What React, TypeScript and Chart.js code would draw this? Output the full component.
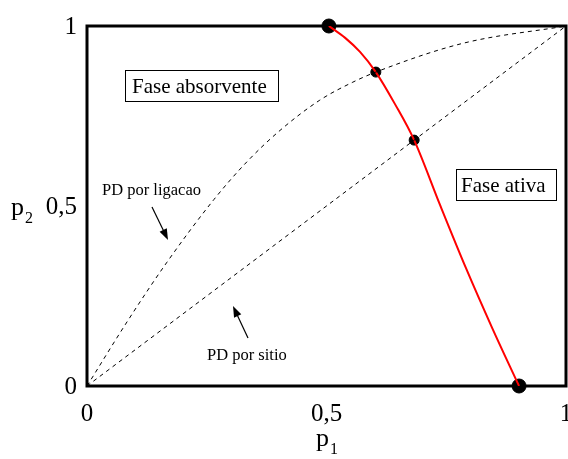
import React, { useEffect, useRef } from "react";
import { Chart, registerables } from "chart.js";

Chart.register(...registerables);

// Bond directed percolation curve (p1, p2)
const bondP1 = [0, 0.0835, 0.167, 0.265, 0.334, 0.403, 0.486, 0.555, 0.603, 0.785, 1];
const bondP2 = [0, 0.178, 0.344, 0.518, 0.623, 0.71, 0.794, 0.844, 0.872, 0.952, 1];
// Site directed percolation line
const siteP1 = [0, 1];
const siteP2 = [0, 1];
// Critical line (red)
const critP1 = [0.505, 0.539, 0.57, 0.603, 0.643, 0.683, 0.737, 0.791, 0.846, 0.902];
const critP2 = [1, 0.967, 0.928, 0.872, 0.783, 0.683, 0.503, 0.328, 0.161, 0];
// Marked points
const endP1 = [0.505, 0.902];
const endP2 = [1, 0];
const crossP1 = [0.603, 0.683];
const crossP2 = [0.872, 0.683];
// Ticks
const tickValues = [0, 0.5, 1];
const tickLabels = ["0", "0,5", "1"];

const zip = (a: number[], b: number[]) => a.map((x, i) => ({ x, y: b[i] }));

const SERIF = '"Liberation Serif", serif';

function arrow(ctx: CanvasRenderingContext2D, x1: number, y1: number, x2: number, y2: number) {
  const ang = Math.atan2(y2 - y1, x2 - x1);
  const L = 11;
  const W = 4;
  ctx.beginPath();
  ctx.moveTo(x1, y1);
  ctx.lineTo(x2 - Math.cos(ang) * L * 0.8, y2 - Math.sin(ang) * L * 0.8);
  ctx.strokeStyle = "#000";
  ctx.lineWidth = 1.2;
  ctx.stroke();
  ctx.beginPath();
  ctx.moveTo(x2, y2);
  ctx.lineTo(x2 - Math.cos(ang) * L + Math.sin(ang) * W, y2 - Math.sin(ang) * L - Math.cos(ang) * W);
  ctx.lineTo(x2 - Math.cos(ang) * L - Math.sin(ang) * W, y2 - Math.sin(ang) * L + Math.cos(ang) * W);
  ctx.closePath();
  ctx.fillStyle = "#000";
  ctx.fill();
}

const framePlugin = {
  id: "frame",
  beforeDatasetsDraw(chart: any) {
    const { ctx, chartArea: a } = chart;
    ctx.save();
    ctx.strokeStyle = "#000";
    ctx.lineWidth = 3;
    ctx.strokeRect(a.left, a.top, a.right - a.left, a.bottom - a.top);
    ctx.restore();
  },
  afterDraw(chart: any) {
    const { ctx } = chart;
    const xs = chart.scales.x;
    const ys = chart.scales.y;
    ctx.save();
    ctx.fillStyle = "#000";
    // tick labels
    ctx.font = `25px ${SERIF}`;
    ctx.textAlign = "right";
    ctx.textBaseline = "middle";
    tickValues.forEach((v, i) => {
      ctx.fillText(tickLabels[i], 77, ys.getPixelForValue(v) + 1);
    });
    ctx.textAlign = "center";
    ctx.textBaseline = "alphabetic";
    tickValues.forEach((v, i) => {
      ctx.fillText(tickLabels[i], xs.getPixelForValue(v), 421);
    });
    // axis titles
    ctx.textAlign = "left";
    ctx.font = `26px ${SERIF}`;
    ctx.fillText("p", 11, 215);
    ctx.font = `16px ${SERIF}`;
    ctx.fillText("2", 25, 223);
    ctx.font = `26px ${SERIF}`;
    ctx.fillText("p", 316, 446);
    ctx.font = `16px ${SERIF}`;
    ctx.fillText("1", 330, 454);
    // phase boxes
    ctx.font = `21px ${SERIF}`;
    ctx.lineWidth = 1;
    ctx.strokeStyle = "#000";
    ctx.fillStyle = "#fff";
    ctx.fillRect(125.5, 70.5, 153, 31);
    ctx.strokeRect(125.5, 70.5, 153, 31);
    ctx.fillRect(456.5, 169.5, 100, 31);
    ctx.strokeRect(456.5, 169.5, 100, 31);
    ctx.fillStyle = "#000";
    ctx.fillText("Fase absorvente", 132, 93);
    ctx.fillText("Fase ativa", 461, 192);
    // annotations
    ctx.font = `16.5px ${SERIF}`;
    ctx.fillText("PD por ligacao", 102, 195);
    ctx.fillText("PD por sitio", 207, 360);
    arrow(ctx, 152, 207, 168, 240);
    arrow(ctx, 248, 338, 233, 306);
    ctx.restore();
  },
};

export default function App() {
  const ref = useRef<HTMLCanvasElement>(null);
  useEffect(() => {
    document.body.style.margin = "0";
    const chart = new Chart(ref.current as HTMLCanvasElement, {
      type: "scatter",
      data: {
        datasets: [
          {
            data: zip(bondP1, bondP2),
            showLine: true,
            borderColor: "#000",
            borderWidth: 1,
            borderDash: [4, 4],
            pointRadius: 0,
            cubicInterpolationMode: "monotone",
          },
          {
            data: zip(siteP1, siteP2),
            showLine: true,
            borderColor: "#000",
            borderWidth: 1,
            borderDash: [4, 4],
            pointRadius: 0,
          },
          {
            data: zip(critP1, critP2),
            showLine: true,
            borderColor: "#ff0000",
            borderWidth: 2,
            pointRadius: 0,
            cubicInterpolationMode: "monotone",
          },
          {
            data: zip(crossP1, crossP2),
            showLine: false,
            pointRadius: 5,
            pointBackgroundColor: "#000",
            pointBorderColor: "#000",
            clip: false,
          },
          {
            data: zip(endP1, endP2),
            showLine: false,
            pointRadius: 7,
            pointBackgroundColor: "#000",
            pointBorderColor: "#000",
            clip: false,
          },
        ] as any,
      },
      options: {
        responsive: false,
        animation: false,
        layout: { autoPadding: false, padding: { left: 87, right: 2, top: 26, bottom: 73 } },
        plugins: { legend: { display: false }, tooltip: { enabled: false } },
        scales: {
          x: { type: "linear", min: 0, max: 1, display: false },
          y: { type: "linear", min: 0, max: 1, display: false },
        },
      },
      plugins: [framePlugin],
    });
    return () => chart.destroy();
  }, []);
  return (
    <div style={{ position: "fixed", left: 0, top: 0, width: 568, height: 459, background: "#fff" }}>
      <canvas ref={ref} width={568} height={459} />
    </div>
  );
}
